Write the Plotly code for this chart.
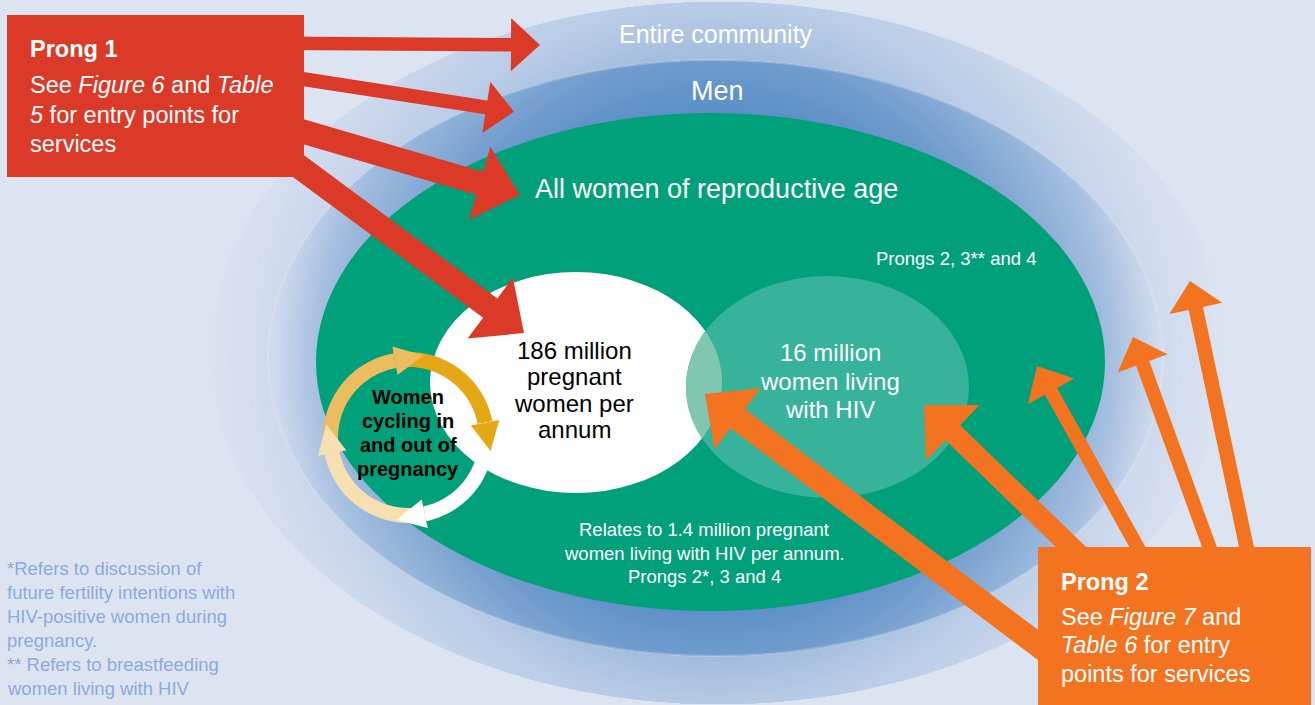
import math
import plotly.graph_objects as go

W, H = 1315, 705
BG = "#dde4f1"

# ---------------- text content ----------------
ring_labels = ["Entire community", "Men", "All women of reproductive age"]
outer_note = "Prongs 2, 3** and 4"
pregnant_lines = ["186 million", "pregnant", "women per", "annum"]
hiv_lines = ["16 million", "women living", "with HIV"]
cycle_lines = ["Women", "cycling in", "and out of", "pregnancy"]
relates_lines = ["Relates to 1.4 million pregnant",
                 "women living with HIV per annum.",
                 "Prongs 2*, 3 and 4"]
footnote_lines = ["*Refers to discussion of",
                  "future fertility intentions with",
                  "HIV-positive women during",
                  "pregnancy.",
                  "** Refers to breastfeeding",
                  "women living with HIV"]
prong1_title = "Prong 1"
prong1_lines = ["See <i>Figure 6</i> and <i>Table</i>",
                "<i>5</i> for entry points for",
                "services"]
prong2_title = "Prong 2"
prong2_lines = ["See <i>Figure 7</i> and",
                "<i>Table 6</i> for entry",
                "points for services"]

# ---------------- geometry (pixel space) ----------------
GRAD_C = (715.0, 358.5)
OUTER = (719.0, 353.0, 509.0, 351.0)     # cx, cy, rx, ry
MEN = (715.5, 358.0, 447.5, 298.0)
GREEN = (710.5, 362.0, 394.5, 249.0)
WHITE_C = (576.0, 382.5, 146.0, 110.5)
HIV_C = (827.5, 387.0, 141.5, 111.0)

outer_stops = [(290, (158, 185, 219)), (300, (162, 188, 221)), (352, (184, 203, 230)),
               (420, (202, 215, 236)), (460, (209, 220, 238)), (515, (221, 228, 241))]
men_stops = [(240, (88, 142, 197)), (300, (110, 155, 205)), (350, (138, 173, 214)),
             (395, (162, 189, 223)), (452, (214, 223, 240))]

GREEN_COL = "#00a07a"
HIV_COL = "#36b39a"
LENS_COL = "#80c6b1"
RED = "#dc3a29"
ORANGE = "#f37321"
FOOT_COL = "#8eaad8"

RING_C = (408.5, 437.5)
RING_R = 78.0
RING_W = 15.0
cycle_segments = [  # start angle, end angle (deg, clockwise on screen), colour
    (168.5, 260.0, "#ecbd5f"),
    (260.0, 349.0, "#e4a716"),
    (349.0, 438.0, "#ffffff"),
    (438.0, 528.5, "#f7dfb2"),
]

# arrows: tip, direction angle (tip->tail, deg, y down), length, shaft w, head w, head len
red_arrows = [
    ((540, 45), 180.4, 260, 13.5, 53, 29),
    ((514, 111.7), 188.8, 240, 14, 52, 28),
    ((520, 195), 196.3, 250, 24, 76, 42),
    ((524, 333), 216.5, 330, 24, 76, 42),
]
orange_arrows = [
    ((705, 394), 37.0, 480, 24, 77, 41),
    ((924, 405), 44.0, 225, 21, 77, 40),
    ((1037, 366), 61.0, 215, 14, 53, 29),
    ((1133, 337), 70.0, 232, 14, 53, 28),
    ((1190, 281), 78.0, 280, 14.5, 54, 28),
]


def lerp_col(stops, r):
    if r <= stops[0][0]:
        c = stops[0][1]
    elif r >= stops[-1][0]:
        c = stops[-1][1]
    else:
        for (r0, c0), (r1, c1) in zip(stops[:-1], stops[1:]):
            if r0 <= r <= r1:
                f = (r - r0) / (r1 - r0)
                c = tuple(c0[i] + f * (c1[i] - c0[i]) for i in range(3))
                break
    return "rgb(%d,%d,%d)" % tuple(int(round(v)) for v in c)


def ray_ellipse(px, py, ux, uy, e):
    cx, cy, a, b = e
    dx, dy = px - cx, py - cy
    A = (ux / a) ** 2 + (uy / b) ** 2
    B = 2 * (dx * ux / a ** 2 + dy * uy / b ** 2)
    C = (dx / a) ** 2 + (dy / b) ** 2 - 1
    return (-B + math.sqrt(B * B - 4 * A * C)) / (2 * A)


def path_from(pts):
    return "M " + " L ".join("%.1f,%.1f" % p for p in pts) + " Z"


def star_region(center, radial, n=180):
    pts = []
    for k in range(n):
        phi = 2 * math.pi * k / n
        ux, uy = math.cos(phi), math.sin(phi)
        t = radial(ux, uy)
        pts.append((center[0] + t * ux, center[1] + t * uy))
    return pts


shapes = []


def add_path(pts, color):
    shapes.append(dict(type="path", path=path_from(pts), fillcolor=color,
                       line=dict(width=0), xref="x", yref="y", layer="above"))


def add_ellipse(e, color, line=None):
    cx, cy, a, b = e
    shapes.append(dict(type="circle", x0=cx - a, x1=cx + a, y0=cy - b, y1=cy + b,
                       fillcolor=color, line=line or dict(width=0), xref="x", yref="y",
                       layer="above"))


# glow bands: circular gradient clipped to each ellipse
for ell, stops, rmax, rmin in [(OUTER, outer_stops, 524, 288), (MEN, men_stops, 462, 238)]:
    r = rmax
    while r >= rmin:
        rr = r
        pts = star_region(GRAD_C, lambda ux, uy: min(rr, ray_ellipse(GRAD_C[0], GRAD_C[1], ux, uy, ell)))
        add_path(pts, lerp_col(stops, r))
        r -= 4
# faint light rim on the "Men" ellipse
add_ellipse(MEN, "rgba(0,0,0,0)", dict(width=2, color="rgba(232,238,247,0.28)"))

add_ellipse(GREEN, GREEN_COL)
add_ellipse(WHITE_C, "#ffffff")
add_ellipse(HIV_C, HIV_COL)
lens_c = (704.0, 385.0)
add_path(star_region(lens_c, lambda ux, uy: min(ray_ellipse(lens_c[0], lens_c[1], ux, uy, WHITE_C),
                                                ray_ellipse(lens_c[0], lens_c[1], ux, uy, HIV_C))),
         LENS_COL)

# cycle arrows
cx, cy = RING_C
ro, ri = RING_R + RING_W / 2, RING_R - RING_W / 2
heads = []
for a0, a1, col in cycle_segments:
    n = 40
    outer_pts, inner_pts = [], []
    for k in range(n + 1):
        th = math.radians(a0 + (a1 - a0) * k / n)
        outer_pts.append((cx + ro * math.cos(th), cy + ro * math.sin(th)))
        inner_pts.append((cx + ri * math.cos(th), cy + ri * math.sin(th)))
    add_path(outer_pts + inner_pts[::-1], col)
    th = math.radians(a1)
    bx, by = cx + RING_R * math.cos(th), cy + RING_R * math.sin(th)
    rx_, ry_ = math.cos(th), math.sin(th)
    tx, ty = -math.sin(th), math.cos(th)
    hw, hl = 14.5, 29
    heads.append(([(bx + rx_ * hw, by + ry_ * hw), (bx + tx * hl, by + ty * hl),
                   (bx - rx_ * hw, by - ry_ * hw)], col))
for pts, col in heads:
    add_path(pts, col)


def block_arrow(tip, ang, length, sw, hw, hl):
    dx, dy = math.cos(math.radians(ang)), math.sin(math.radians(ang))
    nx, ny = -dy, dx
    tx, ty = tip
    bx, by = tx + hl * dx, ty + hl * dy
    px, py = tx + length * dx, ty + length * dy
    return [(tx, ty), (bx + nx * hw / 2, by + ny * hw / 2), (bx + nx * sw / 2, by + ny * sw / 2),
            (px + nx * sw / 2, py + ny * sw / 2), (px - nx * sw / 2, py - ny * sw / 2),
            (bx - nx * sw / 2, by - ny * sw / 2), (bx - nx * hw / 2, by - ny * hw / 2)]


for spec in red_arrows:
    add_path(block_arrow(*spec), RED)
shapes.append(dict(type="rect", x0=7, x1=304, y0=15, y1=177, fillcolor=RED,
                   line=dict(width=0), xref="x", yref="y", layer="above"))
for spec in orange_arrows:
    add_path(block_arrow(*spec), ORANGE)
shapes.append(dict(type="rect", x0=1038, x1=1311, y0=547, y1=706, fillcolor=ORANGE,
                   line=dict(width=0), xref="x", yref="y", layer="above"))

# ---------------- annotations ----------------
REG = "Liberation Sans, Arial, Helvetica, sans-serif"
ann = []


def txt(x, y, s, size, color, family=REG, xanchor="center", bold=False):
    if bold:
        s = "<b>" + s + "</b>"
    ann.append(dict(x=x, y=y, text=s, showarrow=False, xref="x", yref="y",
                    xanchor=xanchor, yanchor="middle",
                    font=dict(size=size, color=color, family=family)))


txt(716, 34, ring_labels[0], 25, "#ffffff")
txt(717, 91, ring_labels[1], 27, "#ffffff")
txt(716, 189, ring_labels[2], 27, "#ffffff")
txt(956, 258.5, outer_note, 18.5, "#ffffff")
for s, y in zip(pregnant_lines, [350, 376.6, 403.3, 429.6]):
    txt(574, y, s, 24, "#000000")
for s, y in zip(hiv_lines, [352.6, 381, 409.6]):
    txt(830, y, s, 24, "#ffffff")
for s, y in zip(cycle_lines, [397, 420.5, 445, 468.5]):
    txt(408, y, s, 20, "#000000", bold=True)
for s, y in zip(relates_lines, [529.5, 553.5, 576.5]):
    txt(704, y, s, 18.5, "#ffffff")
for s, y in zip(footnote_lines, [568, 592, 616, 640, 664, 688]):
    txt(5, y, s, 18.5, FOOT_COL, xanchor="left")
txt(28, 49, prong1_title, 23.5, "#ffffff", xanchor="left", bold=True)
for s, y in zip(prong1_lines, [85, 114.5, 144]):
    txt(28, y, s, 23.5, "#ffffff", xanchor="left")
txt(1059, 582, prong2_title, 23.5, "#ffffff", xanchor="left", bold=True)
for s, y in zip(prong2_lines, [617, 645, 674]):
    txt(1059, y, s, 23.5, "#ffffff", xanchor="left")

fig = go.Figure()
fig.add_trace(go.Scatter(x=[0, W], y=[0, H], mode="markers", marker=dict(opacity=0),
                         hoverinfo="skip", showlegend=False))
fig.update_layout(
    width=W, height=H, margin=dict(l=0, r=0, t=0, b=0),
    paper_bgcolor=BG, plot_bgcolor=BG, showlegend=False,
    xaxis=dict(range=[0, W], visible=False, fixedrange=True),
    yaxis=dict(range=[H, 0], visible=False, fixedrange=True),
    shapes=shapes, annotations=ann,
)
fig.write_html("out.html", config={"displayModeBar": False},
               post_script="document.body.style.margin='0';document.body.style.padding='0';"
                           "document.body.style.background='%s';" % BG)
